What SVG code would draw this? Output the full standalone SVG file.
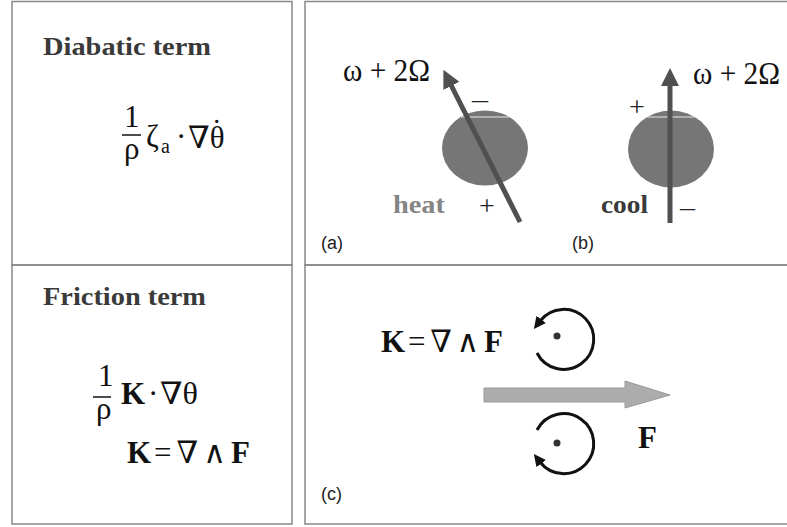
<svg xmlns="http://www.w3.org/2000/svg" width="787" height="527" viewBox="0 0 787 527">
<style>
.frame{fill:none;stroke:#888;stroke-width:1.5}
.title{font-family:"Liberation Serif","DejaVu Serif",serif;font-weight:bold;font-size:25px;fill:#3a3a3a}
.m{font-family:"Liberation Serif","DejaVu Serif",serif;font-size:31px;fill:#111}
.mb{font-family:"Liberation Serif","DejaVu Serif",serif;font-size:31px;font-weight:bold;fill:#111}
.sub{font-family:"Liberation Serif","DejaVu Serif",serif;font-size:20px;fill:#111}
.lab{font-family:"Liberation Sans",Arial,sans-serif;font-size:18px;fill:#222}
.sign{font-family:"Liberation Serif","DejaVu Serif",serif;font-size:28px;fill:#222}
.blob{fill:#767676}
.vec{stroke:#505050;stroke-width:5;fill:none}
.rot{stroke:#111;stroke-width:3;fill:none}
</style>
<defs>
<marker id="bighead" markerUnits="userSpaceOnUse" markerWidth="18" markerHeight="18" viewBox="0 0 18 18" refX="1" refY="9" orient="auto">
<path d="M0,0 L18,9 L0,18 Z" fill="#505050"/>
</marker>
<marker id="rothead" markerUnits="userSpaceOnUse" markerWidth="12" markerHeight="12" viewBox="0 0 12 12" refX="2" refY="6" orient="auto">
<path d="M0,0 L12,6 L0,12 Z" fill="#111"/>
</marker>
</defs>
<rect width="787" height="527" fill="#fff"/>
<g id="frames">
<rect class="frame" x="12" y="1.5" width="280" height="263.5"/>
<rect class="frame" x="12" y="265" width="280" height="259"/>
<rect class="frame" x="305" y="1.5" width="500" height="263.5"/>
<rect class="frame" x="305" y="265" width="500" height="259"/>
</g>
<g id="diabatic">
<text class="title" x="43" y="55" textLength="168" lengthAdjust="spacingAndGlyphs">Diabatic term</text>
<text class="m" x="124" y="127">1</text>
<line x1="122" y1="135" x2="141" y2="135" stroke="#111" stroke-width="1.5"/>
<text class="m" x="124" y="159">ρ</text>
<text class="m" x="146" y="147">ζ</text>
<text class="sub" x="161" y="153">a</text>
<text class="m" x="176" y="147">·</text>
<text class="m" x="188" y="148">∇θ<tspan dx="-13" dy="-7">˙</tspan></text>
</g>
<g id="panel-a">
<ellipse class="blob" cx="485" cy="148" rx="43" ry="37.5"/>
<line x1="461" y1="117" x2="509" y2="117" stroke="#e8e8e8" stroke-width="1"/>
<line class="vec" x1="520" y1="222" x2="451" y2="85" marker-end="url(#bighead)"/>
<text class="m" x="343" y="81" font-size="27" textLength="87" lengthAdjust="spacingAndGlyphs">ω + 2Ω</text>
<text class="sign" x="472" y="108" textLength="16" lengthAdjust="spacingAndGlyphs">–</text>
<text class="sign" x="479" y="215">+</text>
<text class="title" x="393" y="213" style="fill:#858585" font-size="24" textLength="52" lengthAdjust="spacingAndGlyphs">heat</text>
<text class="lab" x="321" y="249">(a)</text>
</g>
<g id="panel-b">
<ellipse class="blob" cx="671" cy="149" rx="43" ry="38.5"/>
<line x1="647" y1="117" x2="695" y2="117" stroke="#e8e8e8" stroke-width="1"/>
<line class="vec" x1="670" y1="223" x2="670" y2="85" marker-end="url(#bighead)"/>
<text class="m" x="693" y="84" font-size="27" textLength="87" lengthAdjust="spacingAndGlyphs">ω + 2Ω</text>
<text class="sign" x="629" y="116">+</text>
<text class="sign" x="680" y="216" textLength="15" lengthAdjust="spacingAndGlyphs">–</text>
<text class="title" x="601" y="213" style="fill:#3a3a3a" font-size="24" textLength="47" lengthAdjust="spacingAndGlyphs">cool</text>
<text class="lab" x="572" y="249">(b)</text>
</g>
<g id="friction">
<text class="title" x="43" y="305" textLength="163" lengthAdjust="spacingAndGlyphs">Friction term</text>
<text class="m" x="98" y="386">1</text>
<line x1="93" y1="397" x2="111" y2="397" stroke="#111" stroke-width="1.5"/>
<text class="m" x="96" y="419">ρ</text>
<text class="mb" x="121" y="404">K</text>
<text class="m" x="148" y="404">·</text>
<text class="m" x="160" y="404" textLength="38" lengthAdjust="spacingAndGlyphs">∇θ</text>
<text class="mb" x="127" y="463">K</text>
<text class="m" x="154" y="463" textLength="96" lengthAdjust="spacing"> = ∇ ∧ <tspan font-weight="bold">F</tspan></text>
</g>
<g id="panel-c">
<text class="mb" x="381" y="352">K</text>
<text class="m" x="408" y="352" textLength="95" lengthAdjust="spacing"> = ∇ ∧ <tspan font-weight="bold">F</tspan></text>
<circle cx="557" cy="336" r="3.5" fill="#333"/>
<circle cx="557" cy="443" r="3.5" fill="#333"/>
<polygon points="484,388 625,388 625,381 670,395 625,408 625,402 484,402" fill="#acacac" stroke="#9a9a9a" stroke-width="1"/>
<text class="mb" x="638" y="448" font-size="29">F</text>
<text class="lab" x="321" y="500">(c)</text>
</g>
<g id="connectors">
<path class="rot" d="M537,353 A30,30 0 1 0 540,321" marker-end="url(#rothead)"/>
<path class="rot" d="M537,430 A30,30 0 1 1 540,462" marker-end="url(#rothead)"/>
</g>
</svg>
